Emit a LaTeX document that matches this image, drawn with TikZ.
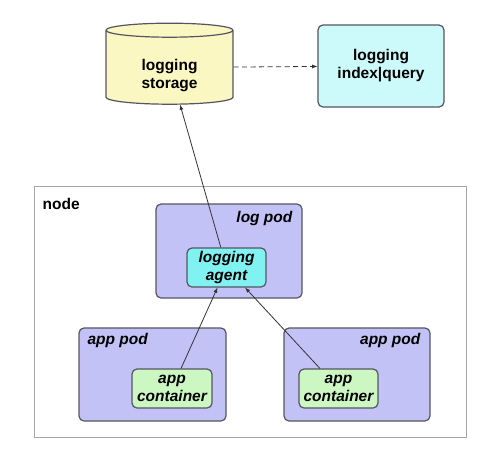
\documentclass[tikz,border=0pt]{standalone}
\usepackage{fontspec}
\setmainfont{Liberation Sans}
\usetikzlibrary{shapes.geometric}
\definecolor{storefill}{HTML}{FAF7C2}
\definecolor{queryfill}{HTML}{CCFAFA}
\definecolor{podfill}{HTML}{C2C2F7}
\definecolor{agentfill}{HTML}{80F2F2}
\definecolor{appfill}{HTML}{CCF7C2}
\definecolor{edge}{HTML}{555560}
\tikzset{
	box/.style = {draw=edge, line width=1.2pt, rounded corners=5pt, align=center, inner sep=0pt,
		font=\fontsize{15.5}{18}\selectfont\bfseries},
	store/.style = {box, rounded corners=0pt, cylinder, shape border rotate=90, aspect=0.25, fill=storefill},
	query/.style = {box, fill=queryfill},
	pod/.style = {box, fill=podfill},
	agent/.style = {box, fill=agentfill, font=\fontsize{15.5}{18}\selectfont\bfseries\itshape},
	app/.style = {box, fill=appfill, font=\fontsize{15.5}{18}\selectfont\bfseries\itshape},
	hostbox/.style = {draw=black!35, line width=1pt, inner sep=0pt},
	tag/.style = {inner sep=0pt, align=center, font=\fontsize{15.5}{18}\selectfont\bfseries},
	podtag/.style = {tag, font=\fontsize{15.5}{18}\selectfont\bfseries\itshape},
	link/.style = {-latex, line width=0.8pt, black!80}
}
\begin{document}
\begin{tikzpicture}[x=1pt, y=-1pt]
\useasboundingbox (0,0) rectangle (500,455);

% storage and query
\node [store, minimum width=127pt, minimum height=81pt] (store) at (169.5,67.5) {{}\\[9pt]logging\\storage};
\node [query, minimum width=126pt, minimum height=82pt] (query) at (381,66) {logging\\index|query};

% the node
\node [hostbox, minimum width=432pt, minimum height=251pt] (host) at (250,311.5) {};
\node [tag, anchor=north west] at ([xshift=9pt, yshift=-13pt]host.north west) {node};

% pods
\node [pod, minimum width=146pt, minimum height=94pt] (logpod) at (229,251) {};
\node [podtag, anchor=north east] at ([xshift=-10pt, yshift=-8pt]logpod.north east) {log pod};
\node [pod, minimum width=147pt, minimum height=93pt] (apppodA) at (152.5,374.5) {};
\node [podtag, anchor=north west] at ([xshift=9pt, yshift=-6pt]apppodA.north west) {app pod};
\node [pod, minimum width=146pt, minimum height=93pt] (apppodB) at (357,374.5) {};
\node [podtag, anchor=north east] at ([xshift=-10pt, yshift=-6pt]apppodB.north east) {app pod};

% containers
\node [agent, minimum width=79pt, minimum height=39pt] (agent) at (226.5,267.5) {logging\\agent};
\node [app, minimum width=80pt, minimum height=39pt] (appA) at (172,388.5) {app\\container};
\node [app, minimum width=79pt, minimum height=39pt] (appB) at (338.5,388.5) {app\\container};

% links
\draw [link, dash pattern=on 5pt off 3.5pt] (store) -- (query);
\draw [link] (agent) -- (store);
\draw [link] (appA) -- (agent);
\draw [link] (appB) -- (agent);
\end{tikzpicture}
\end{document}
